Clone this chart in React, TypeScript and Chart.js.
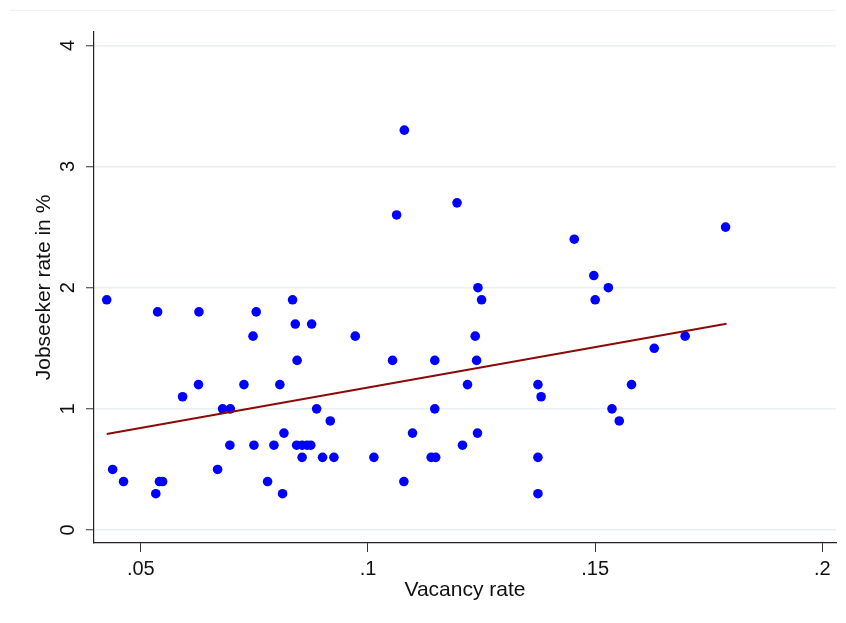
import { useEffect, useRef } from 'react';
import { Chart, registerables } from 'chart.js';

Chart.register(...registerables);

// one point per region: vacancy rate (x) against jobseeker rate in % (y)
const vacancyRate = [
  0.0425, 0.0438, 0.0462, 0.0533, 0.0537, 0.0541, 0.0548, 0.0592, 0.0627, 0.0628,
  0.0669, 0.068, 0.0697, 0.0696, 0.0727, 0.0747, 0.0749, 0.0754, 0.0779, 0.0793,
  0.0806, 0.0812, 0.0815, 0.0834, 0.084, 0.0844, 0.0843, 0.0855, 0.0866, 0.0874,
  0.0855, 0.0876, 0.0887, 0.09, 0.0917, 0.0925, 0.0972, 0.1013, 0.1054, 0.1063,
  0.1079, 0.108, 0.1098, 0.1139, 0.1149, 0.1147, 0.1147, 0.1196, 0.1208, 0.1219,
  0.1236, 0.1239, 0.1241, 0.1242, 0.125, 0.1374, 0.1381, 0.1374, 0.1374, 0.1454,
  0.1497, 0.15, 0.1529, 0.1537, 0.1553, 0.158, 0.163, 0.1698, 0.1787,
];
const jobseekerRate = [
  1.9, 0.5, 0.4, 0.3, 1.8, 0.4, 0.4, 1.1, 1.2, 1.8,
  0.5, 1.0, 1.0, 0.7, 1.2, 1.6, 0.7, 1.8, 0.4, 0.7,
  1.2, 0.3, 0.8, 1.9, 1.7, 1.4, 0.7, 0.7, 0.7, 0.7,
  0.6, 1.7, 1.0, 0.6, 0.9, 0.6, 1.6, 0.6, 1.4, 2.6,
  0.4, 3.3, 0.8, 0.6, 0.6, 1.4, 1.0, 2.7, 0.7, 1.2,
  1.6, 1.4, 0.8, 2.0, 1.9, 1.2, 1.1, 0.6, 0.3, 2.4,
  2.1, 1.9, 2.0, 1.0, 0.9, 1.2, 1.5, 1.6, 2.5,
];

// fitted line end points
const fitX = [0.0425, 0.1789];
const fitY = [0.793, 1.703];

const xTicks = [0.05, 0.1, 0.15, 0.2];
const xTickLabels = ['.05', '.1', '.15', '.2'];
const yTicks = [0, 1, 2, 3, 4];
const yTickLabels = ['0', '1', '2', '3', '4'];

const FONT = "'Liberation Sans', Arial, sans-serif";

export default function App() {
  const canvasRef = useRef<HTMLCanvasElement>(null);
  const chartRef = useRef<Chart | null>(null);

  useEffect(() => {
    if (!canvasRef.current) return;
    if (chartRef.current) chartRef.current.destroy();

    chartRef.current = new Chart(canvasRef.current, {
      type: 'scatter',
      data: {
        datasets: [
          {
            label: 'Fitted values',
            data: fitX.map((x, i) => ({ x, y: fitY[i] })),
            showLine: true,
            borderColor: '#8b0a0a',
            borderWidth: 2,
            pointRadius: 0,
            order: 0,
          },
          {
            label: 'Jobseeker rate',
            data: vacancyRate.map((x, i) => ({ x, y: jobseekerRate[i] })),
            backgroundColor: '#0000ff',
            borderWidth: 0,
            pointRadius: 4.8,
            pointHoverRadius: 4.8,
            order: 1,
          },
        ],
      },
      options: {
        responsive: true,
        maintainAspectRatio: false,
        animation: false,
        events: [],
        layout: { padding: { top: 32, right: 10, left: 0, bottom: 0 } },
        plugins: {
          legend: { display: false },
          tooltip: { enabled: false },
        },
        scales: {
          x: {
            type: 'linear',
            min: 0.0397,
            max: 0.203,
            afterBuildTicks: (s) => {
              s.ticks = xTicks.map((v) => ({ value: v }));
            },
            afterFit: (s) => {
              s.height = 80;
            },
            ticks: {
              color: '#111',
              font: { family: FONT, size: 20 },
              padding: 5,
              maxRotation: 0,
              callback: (_v, i) => xTickLabels[i],
            },
            grid: {
              drawOnChartArea: false,
              tickLength: 9,
              tickColor: '#333',
              tickWidth: 1,
            },
            border: { color: '#222', width: 1.2 },
            title: {
              display: true,
              text: 'Vacancy rate',
              color: '#111',
              font: { family: FONT, size: 21 },
              padding: { top: 0, bottom: 20 },
            },
          },
          y: {
            type: 'linear',
            min: -0.107,
            max: 4.11,
            afterBuildTicks: (s) => {
              s.ticks = yTicks.map((v) => ({ value: v }));
            },
            afterFit: (s) => {
              s.width = 94;
            },
            ticks: {
              color: '#111',
              font: { family: FONT, size: 20 },
              padding: 12,
              minRotation: 90,
              maxRotation: 90,
              crossAlign: 'center',
              callback: (_v, i) => yTickLabels[i],
            },
            grid: {
              color: '#eaf0f2',
              lineWidth: 1.5,
              tickLength: 8,
              tickColor: '#333',
              tickWidth: 1,
            },
            border: { color: '#222', width: 1.2 },
            title: {
              display: true,
              text: 'Jobseeker rate in %',
              color: '#111',
              font: { family: FONT, size: 21 },
              padding: { top: 32, bottom: 0 },
            },
          },
        },
      },
    });

    return () => {
      if (chartRef.current) {
        chartRef.current.destroy();
        chartRef.current = null;
      }
    };
  }, []);

  return (
    <div style={{ position: 'absolute', left: 0, top: 0, width: 846, height: 623, background: '#fff' }}>
      <div style={{ position: 'absolute', left: 10, top: 10, width: 826, height: 1, background: '#eef2f3' }} />
      <canvas ref={canvasRef} />
    </div>
  );
}
